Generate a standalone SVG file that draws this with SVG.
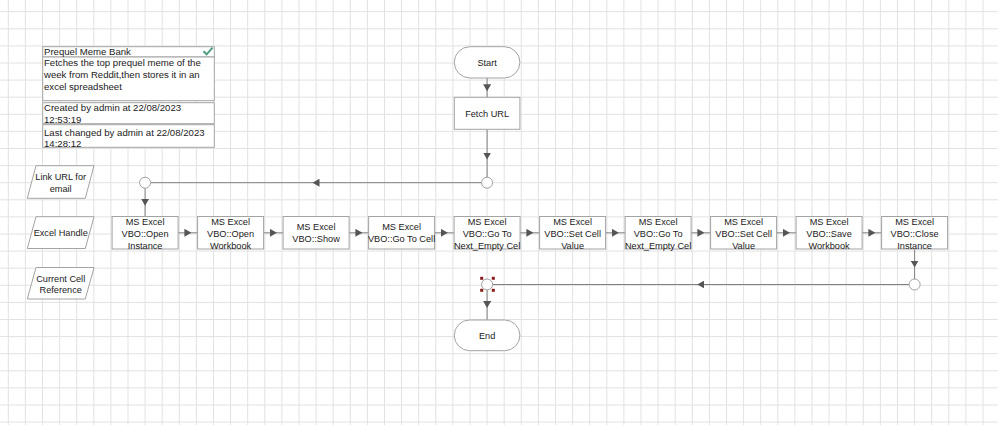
<svg xmlns="http://www.w3.org/2000/svg" width="998" height="425" viewBox="0 0 998 425">
<defs>
<style>
.grid{stroke:#e2e2e2;stroke-width:1;fill:none}
.box{fill:#fff;stroke:#a3a3a3;stroke-width:1}
.t{font-family:"Liberation Sans",Arial,sans-serif;font-size:9.2px;fill:#1a1a1a;text-anchor:middle}
.tl{font-family:"Liberation Sans",Arial,sans-serif;font-size:9.6px;fill:#1a1a1a}
.ln{stroke:#808080;stroke-width:1;fill:none;marker-mid:url(#ah)}
.c{fill:#fff;stroke:#a0a0a0;stroke-width:1}
.h{fill:#8b1a1a}
</style>
<marker id="ah" viewBox="0 0 7 8" refX="3.5" refY="4" markerWidth="7" markerHeight="8" markerUnits="userSpaceOnUse" orient="auto">
<path d="M0,0 L7,4 L0,8 z" fill="#555"/>
</marker>
</defs>
<rect width="998" height="425" fill="#fff"/>
<path class="grid" d="M8.3 0V425M25.4 0V425M42.5 0V425M59.6 0V425M76.7 0V425M93.8 0V425M110.9 0V425M128 0V425M145.1 0V425M162.2 0V425M179.3 0V425M196.4 0V425M213.5 0V425M230.6 0V425M247.7 0V425M264.8 0V425M281.9 0V425M299 0V425M316.1 0V425M333.2 0V425M350.3 0V425M367.4 0V425M384.5 0V425M401.6 0V425M418.7 0V425M435.8 0V425M452.9 0V425M470 0V425M487.1 0V425M504.2 0V425M521.3 0V425M538.4 0V425M555.5 0V425M572.6 0V425M589.7 0V425M606.8 0V425M623.9 0V425M641 0V425M658.1 0V425M675.2 0V425M692.3 0V425M709.4 0V425M726.5 0V425M743.6 0V425M760.7 0V425M777.8 0V425M794.9 0V425M812 0V425M829.1 0V425M846.2 0V425M863.3 0V425M880.4 0V425M897.5 0V425M914.6 0V425M931.7 0V425M948.8 0V425M965.9 0V425M983 0V425M0 11.7H998M0 28.8H998M0 45.9H998M0 63H998M0 80.1H998M0 97.2H998M0 114.3H998M0 131.4H998M0 148.5H998M0 165.6H998M0 182.7H998M0 199.8H998M0 216.9H998M0 234H998M0 251.1H998M0 268.2H998M0 285.3H998M0 302.4H998M0 319.5H998M0 336.6H998M0 353.7H998M0 370.8H998M0 387.9H998M0 405H998M0 422.1H998"/>

<g id="info">
<rect class="box" x="42.7" y="46.7" width="171.6" height="10.3"/>
<rect class="box" x="42.7" y="57" width="171.6" height="43.7"/>
<rect class="box" x="42.7" y="102.7" width="171.6" height="21"/>
<rect class="box" x="42.7" y="124.7" width="171.6" height="22.6"/>
<path d="M203.5 51.2 L206.6 54.3 L212.6 47.6" fill="none" stroke="#4e9e7e" stroke-width="2"/>
<text class="tl" x="44" y="55.2">Prequel Meme Bank</text>
<text class="tl" x="44" y="66">Fetches the top prequel meme of the</text>
<text class="tl" x="44" y="78.3">week from Reddit,then stores it in an</text>
<text class="tl" x="44" y="90.3">excel spreadsheet</text>
<text class="tl" x="44" y="110.5">Created by admin at 22/08/2023</text>
<text class="tl" x="44" y="122.5">12:53:19</text>
<text class="tl" x="44" y="135.8">Last changed by admin at 22/08/2023</text>
<text class="tl" x="44" y="146.5">14:28:12</text>
</g>

<g id="data-link-url">
<polygon class="box" points="36,165.7 94,165.7 85.3,198.3 27.3,198.3"/>
<text class="t" x="60.7" y="179.5">Link URL for</text>
<text class="t" x="60.7" y="191.8">email</text>
</g>
<g id="data-excel-handle">
<polygon class="box" points="36,216.7 94,216.7 85.3,248.5 27.3,248.5"/>
<text class="t" x="60.7" y="236">Excel Handle</text>
</g>
<g id="data-current-cell">
<polygon class="box" points="36,267.5 94,267.5 85.3,299 27.3,299"/>
<text class="t" x="60.7" y="281.8">Current Cell</text>
<text class="t" x="60.7" y="292.8">Reference</text>
</g>

<g id="connectors">
<path class="ln" d="M487.1 78V87.7V97.3"/>
<path class="ln" d="M487.1 129.3V156V177.2"/>
<path class="ln" d="M481.6 182.7H316H150.6"/>
<path class="ln" d="M145.1 188.2V202.3V216.5"/>
<path class="ln" d="M178.1 232.8H187.85H197.6"/>
<path class="ln" d="M263.6 232.8H273.35H283.1"/>
<path class="ln" d="M349.1 232.8H358.85H368.6"/>
<path class="ln" d="M434.6 232.8H444.35H454.1"/>
<path class="ln" d="M520.1 232.8H529.85H539.6"/>
<path class="ln" d="M605.6 232.8H615.35H625.1"/>
<path class="ln" d="M691.1 232.8H700.85H710.6"/>
<path class="ln" d="M776.6 232.8H786.35H796.1"/>
<path class="ln" d="M862.1 232.8H871.85H881.6"/>
<path class="ln" d="M914.6 249.3V264V279"/>
<path class="ln" d="M909.1 284.5H700.8H492.6"/>
<path class="ln" d="M487.1 290V304.5V320"/>
</g>

<g id="start">
<rect class="box" x="454.3" y="46.7" width="65.6" height="31.3" rx="15.6"/>
<text class="t" x="487.1" y="65.6">Start</text>
</g>
<g id="fetch-url">
<rect class="box" x="454.3" y="97.3" width="65.6" height="32"/>
<text class="t" x="487.1" y="116.8">Fetch URL</text>
</g>
<g id="junction-1"><circle class="c" cx="487.1" cy="182.7" r="5.5"/></g>
<g id="junction-2"><circle class="c" cx="145.1" cy="182.7" r="5.5"/></g>

<g id="open-instance">
<rect class="box" x="112.1" y="216.5" width="66" height="32.5"/>
<text class="t" x="145.1" y="224.5">MS Excel</text>
<text class="t" x="145.1" y="236.8">VBO::Open</text>
<text class="t" x="145.1" y="248.9">Instance</text>
</g>
<g id="open-workbook">
<rect class="box" x="197.6" y="216.5" width="66" height="32.5"/>
<text class="t" x="230.6" y="224.5">MS Excel</text>
<text class="t" x="230.6" y="236.8">VBO::Open</text>
<text class="t" x="230.6" y="248.9">Workbook</text>
</g>
<g id="show">
<rect class="box" x="283.1" y="216.5" width="66" height="32.5"/>
<text class="t" x="316.1" y="230">MS Excel</text>
<text class="t" x="316.1" y="242.3">VBO::Show</text>
</g>
<g id="go-to-cell">
<rect class="box" x="368.6" y="216.5" width="66" height="32.5"/>
<text class="t" x="401.6" y="230">MS Excel</text>
<text class="t" x="401.6" y="242.3">VBO::Go To Cell</text>
</g>
<g id="go-to-next-empty-1">
<rect class="box" x="454.1" y="216.5" width="66" height="32.5"/>
<text class="t" x="487.1" y="224.5">MS Excel</text>
<text class="t" x="487.1" y="236.8">VBO::Go To</text>
<text class="t" x="487.1" y="248.9">Next_Empty Cel</text>
</g>
<g id="set-cell-value-1">
<rect class="box" x="539.6" y="216.5" width="66" height="32.5"/>
<text class="t" x="572.6" y="224.5">MS Excel</text>
<text class="t" x="572.6" y="236.8">VBO::Set Cell</text>
<text class="t" x="572.6" y="248.9">Value</text>
</g>
<g id="go-to-next-empty-2">
<rect class="box" x="625.1" y="216.5" width="66" height="32.5"/>
<text class="t" x="658.1" y="224.5">MS Excel</text>
<text class="t" x="658.1" y="236.8">VBO::Go To</text>
<text class="t" x="658.1" y="248.9">Next_Empty Cel</text>
</g>
<g id="set-cell-value-2">
<rect class="box" x="710.6" y="216.5" width="66" height="32.5"/>
<text class="t" x="743.6" y="224.5">MS Excel</text>
<text class="t" x="743.6" y="236.8">VBO::Set Cell</text>
<text class="t" x="743.6" y="248.9">Value</text>
</g>
<g id="save-workbook">
<rect class="box" x="796.1" y="216.5" width="66" height="32.5"/>
<text class="t" x="829.1" y="224.5">MS Excel</text>
<text class="t" x="829.1" y="236.8">VBO::Save</text>
<text class="t" x="829.1" y="248.9">Workbook</text>
</g>
<g id="close-instance">
<rect class="box" x="881.6" y="216.5" width="66" height="32.5"/>
<text class="t" x="914.6" y="224.5">MS Excel</text>
<text class="t" x="914.6" y="236.8">VBO::Close</text>
<text class="t" x="914.6" y="248.9">Instance</text>
</g>

<g id="junction-3"><circle class="c" cx="914.6" cy="284.5" r="5.5"/></g>
<g id="junction-4">
<circle class="c" cx="487.1" cy="284.5" r="5.5"/>
<rect class="h" x="480.2" y="276.8" width="3" height="3"/>
<rect class="h" x="491.8" y="276.8" width="3" height="3"/>
<rect class="h" x="480.2" y="288.8" width="3" height="3"/>
<rect class="h" x="491.8" y="288.8" width="3" height="3"/>
</g>
<g id="end">
<rect class="box" x="454.3" y="320" width="65.6" height="30.7" rx="15.3"/>
<text class="t" x="487.1" y="338.6">End</text>
</g>
</svg>
